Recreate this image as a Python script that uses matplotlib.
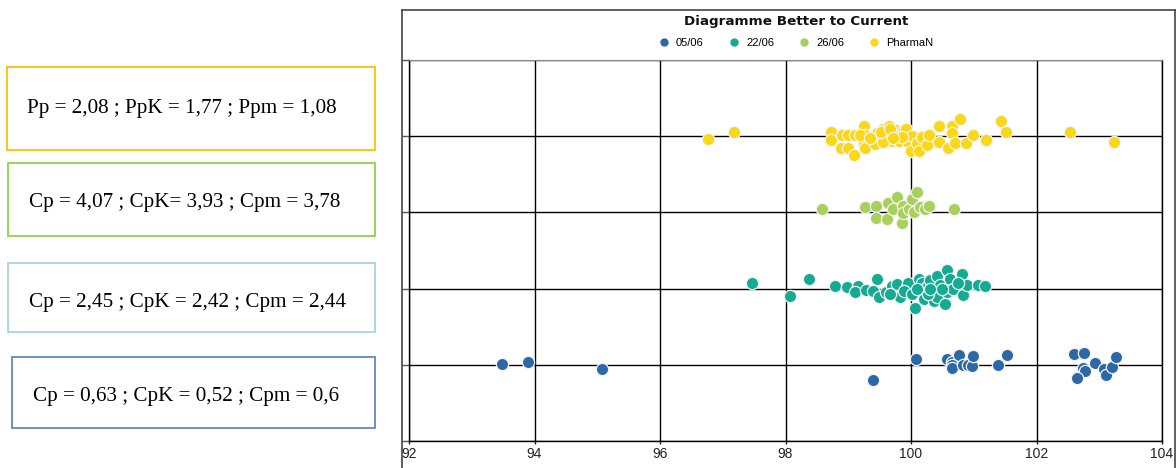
import matplotlib
matplotlib.use("Agg")
import matplotlib.pyplot as plt
from matplotlib.patches import Rectangle
from matplotlib.lines import Line2D
from matplotlib import font_manager

# ---- data ----
series = ["05/06", "22/06", "26/06", "PharmaN"]
colors = ["#2d68a6", "#14ab93", "#a8d05a", "#fbd817"]
rows = [1, 2, 3, 4]

x_0506 = [93.48, 93.90, 95.08, 99.39, 100.08, 100.57, 100.65, 100.77, 100.66, 100.66,
          100.83, 100.91, 100.97, 100.99, 101.38, 101.53, 102.59, 102.75, 102.74, 102.77,
          102.65, 102.93, 103.08, 103.11, 103.20, 103.26]
j_0506 = [0.01, 0.04, -0.05, -0.20, 0.07, 0.07, 0.04, 0.13, 0.00, -0.04,
          0.00, 0.00, -0.01, 0.12, 0.00, 0.13, 0.14, 0.16, -0.04, -0.08,
          -0.17, 0.03, -0.06, -0.14, -0.03, 0.10]

x_2206 = [97.46, 98.07, 98.38, 98.79, 98.98, 99.16, 99.11, 99.29, 99.40, 99.46,
          99.49, 99.60, 99.69, 99.77, 99.84, 99.82, 99.94, 99.96, 100.06, 100.13,
          100.17, 100.19, 100.21, 100.25, 100.30, 100.36, 100.38, 100.41, 100.46, 100.42,
          100.54, 100.58, 100.62, 100.57, 100.67, 100.81, 100.83, 100.89, 101.07, 101.18,
          99.89, 100.02, 100.27, 100.49, 100.10, 99.67, 100.30, 100.75]
j_2206 = [0.07, -0.10, 0.12, 0.03, 0.02, 0.03, -0.05, -0.02, -0.03, 0.13,
          -0.11, -0.04, 0.04, 0.06, -0.08, -0.11, 0.02, 0.08, -0.25, 0.13,
          0.07, -0.05, -0.14, 0.02, 0.11, -0.16, -0.05, 0.17, 0.05, -0.11,
          -0.20, 0.25, 0.13, -0.05, 0.00, 0.19, -0.09, 0.05, 0.05, 0.04,
          -0.03, -0.07, -0.07, 0.00, 0.00, -0.07, 0.00, 0.08]

x_2606 = [98.58, 99.27, 99.45, 99.44, 99.61, 99.64, 99.72, 99.78, 99.87, 99.86,
          99.88, 99.97, 100.02, 100.10, 100.05, 100.14, 100.22, 100.28, 100.69]
j_2606 = [0.04, 0.07, 0.08, -0.07, -0.09, 0.12, 0.04, 0.20, 0.09, -0.14,
          -0.01, 0.05, 0.17, 0.27, 0.00, 0.07, 0.04, 0.08, 0.04]

x_pharma = [96.77, 97.18, 98.73, 98.73, 98.90, 98.99, 99.11, 98.89, 99.00, 99.09,
            99.25, 99.27, 99.25, 99.27, 99.43, 99.46, 99.55, 99.60, 99.65, 99.70,
            99.76, 99.81, 99.88, 99.92, 99.95, 100.01, 100.00, 100.09, 100.12, 100.17,
            100.25, 100.28, 100.45, 100.45, 100.59, 100.65, 100.65, 100.70, 100.78, 100.87,
            100.99, 101.20, 101.44, 101.52, 102.54, 103.24, 99.55, 99.71, 99.86, 99.19,
            99.52, 99.67, 99.71, 99.35]
j_pharma = [-0.04, 0.06, 0.06, -0.05, 0.02, 0.02, 0.02, -0.16, -0.15, -0.25,
            0.14, 0.02, -0.10, -0.16, -0.10, 0.04, 0.10, -0.01, 0.14, -0.06,
            0.08, -0.06, 0.07, 0.10, -0.07, 0.00, -0.19, -0.09, -0.19, -0.01,
            -0.12, 0.01, 0.13, -0.07, -0.16, 0.13, 0.04, -0.09, 0.22, -0.09,
            0.01, -0.05, 0.20, 0.06, 0.06, -0.07, -0.07, 0.01, -0.01, 0.01,
            0.06, 0.10, -0.03, -0.03]

xs = [x_0506, x_2206, x_2606, x_pharma]
js = [j_0506, j_2206, j_2606, j_pharma]

box_texts = ["Pp = 2,08 ; PpK = 1,77 ; Ppm = 1,08",
             "Cp = 4,07 ; CpK= 3,93 ; Cpm = 3,78",
             "Cp = 2,45 ; CpK = 2,42 ; Cpm = 2,44",
             "Cp = 0,63 ; CpK = 0,52 ; Cpm = 0,6"]
box_colors = ["#ffc000", "#92d050", "#a6d6e2", "#5f89c6"]

x_ticks = [92, 94, 96, 98, 100, 102, 104]

# ---- figure ----
W, H = 1176, 468
fig = plt.figure(figsize=(W / 100, H / 100), dpi=100)


def fx(px):
    return px / W


def fy(py):
    return 1 - py / H


names = {f.name for f in font_manager.fontManager.ttflist}
narrow = "Liberation Sans Narrow" if "Liberation Sans Narrow" in names else "Liberation Sans"

ax = fig.add_axes([fx(409), fy(441), fx(1162) - fx(409), fy(60) - fy(441)])

for x, j, r, c, name in zip(xs, js, rows, colors, series):
    ax.scatter(x, [r + v for v in j], s=78, color=c, edgecolors="#f4f4f4",
               linewidths=0.9, zorder=3, label=name)

ax.set_xlim(92, 104)
ax.set_ylim(0, 5)
ax.set_xticks(x_ticks)
ax.set_xticklabels([str(t) for t in x_ticks], fontfamily=narrow, fontsize=10, color="#222222")
ax.set_yticks([0, 1, 2, 3, 4, 5])
ax.set_yticklabels([])
ax.tick_params(axis="y", length=5, width=1, color="#555555", direction="out")
ax.tick_params(axis="x", length=2, width=1, color="#222222", pad=2)
ax.grid(True, color="black", linewidth=1, zorder=1)
ax.set_axisbelow(True)
for s in ["left", "bottom", "right"]:
    ax.spines[s].set_color("black")
    ax.spines[s].set_linewidth(1)
ax.spines["top"].set_color("#888888")

# outer panel border
fig.add_artist(Line2D([fx(402), fx(402)], [fy(10), fy(468)], color="#444444", lw=1.2))
fig.add_artist(Line2D([fx(402), fx(1175)], [fy(10), fy(10)], color="#444444", lw=1.2))
fig.add_artist(Line2D([fx(1175), fx(1175)], [fy(10), fy(468)], color="#444444", lw=1.2))

fig.text(fx(796), fy(22), "Diagramme Better to Current", ha="center", va="center",
         fontsize=9.7, fontweight="bold", color="#111111")

handles = [Line2D([], [], marker="o", linestyle="", markersize=5, color=c,
                  markeredgecolor=c) for c in colors]
fig.legend(handles, series, loc="center", bbox_to_anchor=(fx(796), fy(43)), ncol=4,
           frameon=False, prop={"family": narrow, "size": 8}, handletextpad=0.6,
           columnspacing=2.2, handlelength=1.0)

# capability boxes on the left
boxes = [(7, 67, 375, 150), (8, 163, 375, 236), (8, 263, 375, 332), (12, 357, 375, 428)]
text_pos = [(27, 108), (29, 202), (29, 302), (33, 396)]
for (x0, y0, x1, y1), t, c, (tx, ty) in zip(boxes, box_texts, box_colors, text_pos):
    fig.patches.append(Rectangle((fx(x0), fy(y1)), fx(x1) - fx(x0), fy(y0) - fy(y1),
                                 transform=fig.transFigure, fill=False, edgecolor=c,
                                 linewidth=1.3))
    fig.text(fx(tx), fy(ty), t, ha="left", va="center",
             fontfamily="Liberation Serif", fontsize=15.2, color="black")

fig.savefig("out.png", dpi=100)
